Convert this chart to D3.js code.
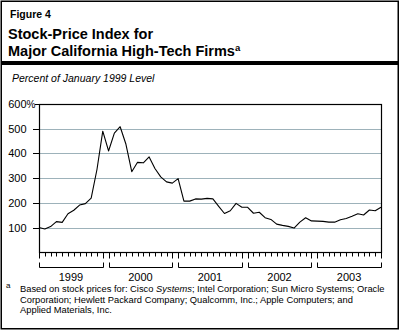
<!DOCTYPE html>
<html>
<head>
<meta charset="utf-8">
<script src="https://cdn.jsdelivr.net/npm/d3@7"></script>
<style>
  body { margin: 0; background: #fff; }
  svg text { font-family: "Liberation Sans", Arial, sans-serif; fill: #000; }
</style>
</head>
<body>
<div id="chart"></div>
<script>
// monthly index, Jan 1999 = 100
var values = [
  100, 94, 104, 124, 121, 156, 170, 191, 197, 219, 335, 490,
  410, 482, 508, 437, 326, 364, 362, 386, 339, 305, 285, 280,
  298, 207, 207, 216, 215, 218, 216, 186, 157, 168, 198, 182,
  182, 158, 162, 140, 133, 114, 109, 105, 98, 122, 140, 127,
  126, 125, 122, 122, 132, 137, 146, 156, 151, 171, 168, 182
];
var years = ["1999", "2000", "2001", "2002", "2003"];
var yTicks = [100, 200, 300, 400, 500, 600];
var footLines = [
  "Based on stock prices for: Cisco Systems; Intel Corporation; Sun Micro Systems; Oracle",
  "Corporation; Hewlett Packard Company; Qualcomm, Inc.; Apple Computers; and",
  "Applied Materials, Inc."
];

var width = 402, height = 331,
    margin = {top: 104, left: 39, right: 20, bottom: 79};

var svg = d3.select("#chart").append("svg")
  .attr("width", width)
  .attr("height", height);

// outer frame + title block
svg.append("rect")
  .attr("x", 1.25).attr("y", 1.25)
  .attr("width", 397).attr("height", 327.5)
  .style("fill", "none").style("stroke", "#000").style("stroke-width", 1.5);

svg.append("rect")
  .attr("x", 1).attr("y", 61)
  .attr("width", 398).attr("height", 4)
  .style("fill", "#000");

svg.append("text").attr("x", 10).attr("y", 18)
  .style("font-size", "10.5px").style("font-weight", "bold")
  .text("Figure 4");
svg.append("text").attr("x", 8).attr("y", 39)
  .style("font-size", "14.5px").style("font-weight", "bold")
  .text("Stock-Price Index for");
var t2 = svg.append("text").attr("x", 8).attr("y", 56)
  .style("font-size", "14.5px").style("font-weight", "bold")
  .text("Major California High-Tech Firms");
t2.append("tspan").attr("dy", -5).style("font-size", "9.5px").text("a");

svg.append("text").attr("x", 12).attr("y", 82)
  .style("font-size", "10.5px").style("font-style", "italic")
  .text("Percent of January 1999 Level");

// scales
var x = d3.scaleLinear()
  .domain([0, values.length - 1])
  .range([margin.left, width - margin.right - 1]);

var y = d3.scaleLinear()
  .domain([0, 600])
  .range([height - margin.bottom + 0.3, margin.top]);

var xBand = d3.scaleBand()
  .domain(years)
  .range([margin.left, width - margin.right - 1])
  .paddingInner(0.08);

// grid
svg.selectAll(".grid")
  .data(yTicks.filter(function(d){ return d < 600; }))
  .enter().append("line")
  .attr("x1", margin.left).attr("x2", x.range()[1])
  .attr("y1", function(d){ return Math.round(y(d)) + 0.5; })
  .attr("y2", function(d){ return Math.round(y(d)) + 0.5; })
  .style("stroke", "#9db2ba").style("stroke-width", 1.2);

// y ticks + labels
svg.selectAll(".ytick")
  .data(yTicks)
  .enter().append("line")
  .attr("x1", function(d){ return d == 600 ? 35 : 33; })
  .attr("x2", margin.left)
  .attr("y1", function(d){ return Math.round(y(d)) + 0.5; })
  .attr("y2", function(d){ return Math.round(y(d)) + 0.5; })
  .style("stroke", "#000");

svg.selectAll(".ylab")
  .data(yTicks)
  .enter().append("text")
  .attr("x", 26.5)
  .attr("y", function(d){ return y(d) + 4; })
  .style("font-size", "11px")
  .style("text-anchor", "end")
  .text(function(d){ return d; });
svg.append("text")
  .attr("x", 26.5).attr("y", y(600) + 4)
  .style("font-size", "10px")
  .text("%");

// plot box
svg.append("rect")
  .attr("x", margin.left + 0.5).attr("y", Math.round(y(600)) + 0.5)
  .attr("width", x.range()[1] - margin.left)
  .attr("height", Math.round(y(0)) - Math.round(y(600)))
  .style("fill", "none").style("stroke", "#000").style("stroke-width", 1.2);

// month ticks, 12 per year bracket
var axisY = Math.round(y(0)) + 0.5;
years.forEach(function(yr) {
  var x0 = xBand(yr), bw = xBand.bandwidth();
  d3.range(12).forEach(function(j) {
    var tx = Math.round(x0 + j * bw / 11) + 0.5;
    svg.append("line")
      .attr("x1", tx).attr("x2", tx)
      .attr("y1", axisY).attr("y2", axisY + (j == 0 || j == 11 ? 6 : 4))
      .style("stroke", "#000");
  });
  // year bracket
  svg.append("path")
    .attr("d", "M" + (Math.round(x0) + 0.5) + "," + 262.5 +
               "V" + 267.5 + "H" + (Math.round(x0 + bw) + 0.5) + "V" + 262.5)
    .style("fill", "none").style("stroke", "#000");
  svg.append("text")
    .attr("x", x0 + bw / 2).attr("y", 281)
    .style("font-size", "11px").style("text-anchor", "middle")
    .text(yr);
});

// the index line
var line = d3.line()
  .x(function(d, i){ return x(i); })
  .y(function(d){ return y(d); });

svg.append("path")
  .datum(values)
  .attr("d", line)
  .style("fill", "none")
  .style("stroke", "#000")
  .style("stroke-width", 1.1)
  .style("stroke-linejoin", "round");

// footnote
svg.append("text").attr("x", 6).attr("y", 288)
  .style("font-size", "8px").text("a");
footLines.forEach(function(l, i) {
  var t = svg.append("text")
    .attr("x", 20).attr("y", 292 + i * 10.5)
    .style("font-size", "9.35px");
  if (i == 0) {
    t.append("tspan").text("Based on stock prices for: Cisco ");
    t.append("tspan").style("font-style", "italic").text("Systems");
    t.append("tspan").text("; Intel Corporation; Sun Micro Systems; Oracle");
  } else {
    t.text(l);
  }
});
</script>
</body>
</html>
